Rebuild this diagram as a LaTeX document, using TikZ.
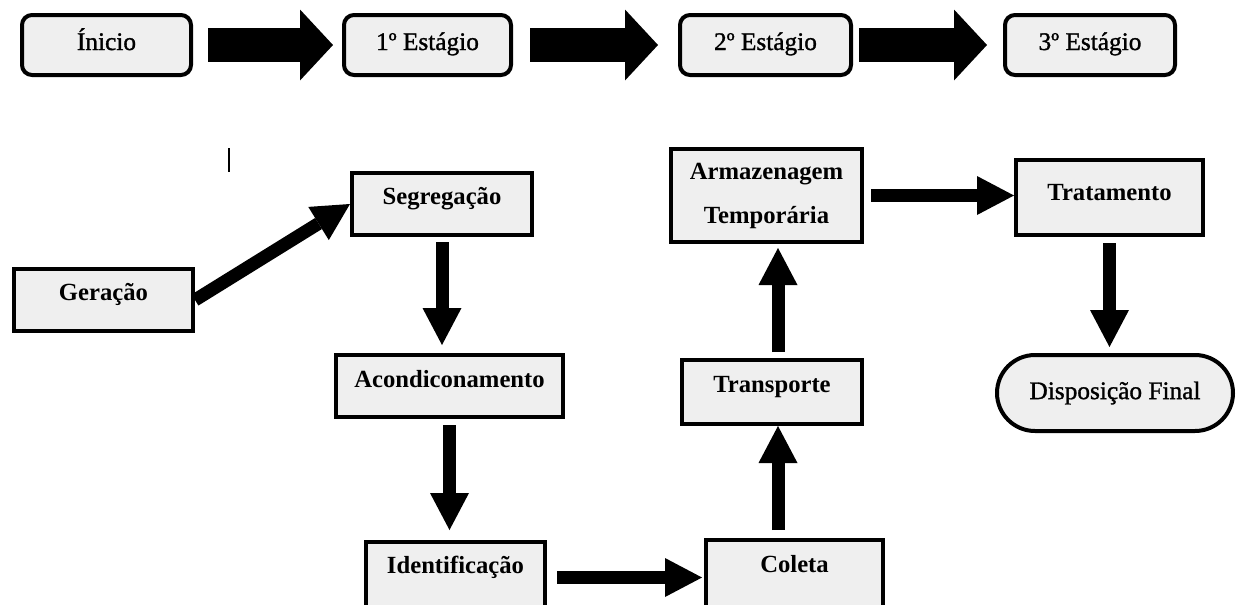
\documentclass[tikz,border=0pt]{standalone}
\usepackage{fontspec}
\setmainfont{Liberation Serif}
\newfontfamily\stagefont{Liberation Serif}[FakeBold=1.2]
\usetikzlibrary{arrows.meta,calc}
\definecolor{boxfill}{HTML}{EFEFEF}

\begin{document}
\begin{tikzpicture}[x=0.75pt,y=-0.75pt,
  stagebox/.style={draw, line width=3pt, fill=boxfill, rounded corners=7.5pt,
    inner sep=0pt, text height=26.25pt, text depth=18.75pt,
    font=\stagefont\fontsize{19}{22}\selectfont},
  procbox/.style={draw, line width=3pt, fill=boxfill, inner sep=0pt,
    font=\bfseries\fontsize{18.5}{21}\selectfont},
  endbox/.style={draw, line width=3pt, fill=boxfill, rounded corners=28.5pt,
    inner sep=0pt, font=\stagefont\fontsize{19}{22}\selectfont},
  bigarrow/.style={line width=25.5pt,
    -{Triangle[width=53.25pt,length=24.75pt,line width=0pt]}},
  flowarrow/.style={line width=9.75pt,
    -{Triangle[width=29.25pt,length=27.75pt,line width=0pt]}},
]
\useasboundingbox (0,0) rectangle (1240,604);
\clip (0,0) rectangle (1240,604);
\fill[white] (0,0) rectangle (1240,604);

% stage row
\node[stagebox, minimum width=126.75pt] (ini) at (106.5,45) {Ínicio};
\node[stagebox, minimum width=125.25pt] (s1) at (427.5,45) {1º Estágio};
\node[stagebox, minimum width=128.25pt] (s2) at (765.5,45) {2º Estágio};
\node[stagebox, minimum width=127.5pt]  (s3) at (1090,45) {3º Estágio};

\draw[bigarrow, shorten <=11.25pt, shorten >=6.75pt] (ini.east) -- (s1.west);
\draw[bigarrow, shorten <=12.75pt, shorten >=15pt] (s1.east) -- (s2.west);
\draw[bigarrow, shorten <=4.5pt, shorten >=12pt] (s2.east) -- (s3.west);

% waste handling flow
\node[procbox, minimum width=134.25pt, text height=23.25pt, text depth=23.25pt] (ger) at (103.5,300) {Geração};
\node[procbox, minimum width=135pt, text height=23.25pt, text depth=23.25pt] (seg) at (442,204) {Segregação};
\node[procbox, minimum width=170.25pt, text height=24pt, text depth=22.5pt] (acond) at (449.5,386) {Acondiconamento};
\node[procbox, minimum width=134.25pt, text height=23.25pt, text depth=30pt] (ident) at (455.5,577.5) {Identificação};
\node[procbox, minimum width=132.75pt, text height=24pt, text depth=30pt] (coleta) at (794.5,576) {Coleta};
\node[procbox, minimum width=135pt, text height=24pt, text depth=24pt] (trans) at (772,392) {Transporte};
\node[procbox, minimum width=143.25pt, minimum height=69.75pt, align=center,
  font=\bfseries\fontsize{18.5}{33}\selectfont] (armaz) at (766.5,195.5) {Armazenagem\\Temporária};
\node[procbox, minimum width=140.25pt, text height=30pt, text depth=26.25pt] (trat) at (1109.5,197.5) {Tratamento};
\node[endbox, minimum width=177pt, minimum height=57pt] (disp) at (1115,393) {Disposição Final};

\draw[flowarrow] (ger.east) -- (seg.west);
\draw[flowarrow, shorten <=3.75pt, shorten >=6pt] (seg.south) -- (seg.south |- acond.north);
\draw[flowarrow, shorten <=4.5pt, shorten >=7.5pt] (acond.south) -- (acond.south |- ident.north);
\draw[flowarrow, shorten <=7.5pt, shorten >=1.5pt] (ident.east) -- (ident.east -| coleta.west);
\draw[flowarrow, shorten <=6pt] ([xshift=4.5pt]trans.south |- coleta.north) -- ([xshift=4.5pt]trans.south);
\draw[flowarrow, shorten <=4.5pt, shorten >=3pt] ([xshift=4.5pt]trans.north) -- ([xshift=4.5pt]trans.north |- armaz.south);
\draw[flowarrow, shorten <=5.25pt] (armaz.east) -- (armaz.east -| trat.west);
\draw[flowarrow, shorten <=4.5pt, shorten >=4.5pt] (trat.south) -- (trat.south |- disp.north);

% stray cursor mark
\draw[line width=1.2pt] (229,148) -- (229,172);
\end{tikzpicture}
\end{document}
